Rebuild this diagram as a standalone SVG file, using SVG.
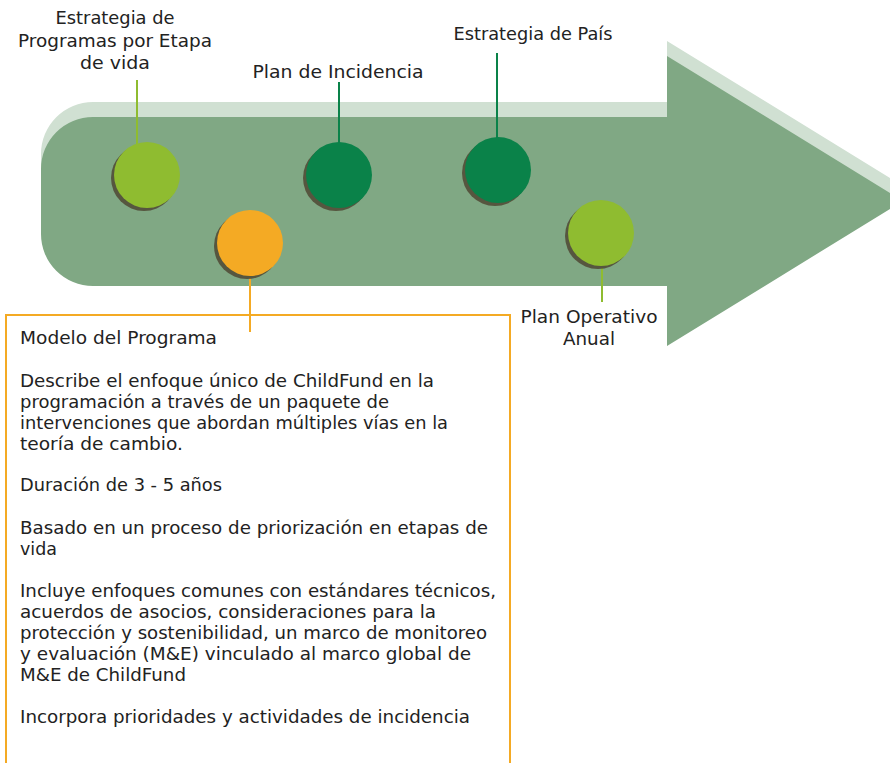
<svg xmlns="http://www.w3.org/2000/svg" width="890" height="763" viewBox="0 0 890 763">
<defs>
<style>
.t{font-family:"DejaVu Sans","Liberation Sans",sans-serif;font-size:17px;fill:#222222}
.c{text-anchor:middle}
.sh{fill:#56563f}
.lg{fill:#8fbc30}
.dg{fill:#0a8249}
.or{fill:#f4aa24}
</style>
<path id="arrowShape" d="M 93 117 H 667 V 56 L 903 201 L 667 346 V 286 H 93 A 52 52 0 0 1 41 234 V 169 A 52 52 0 0 1 93 117 Z"/>
</defs>
<rect width="890" height="763" fill="#ffffff"/>
<g id="arrow">
<use href="#arrowShape" transform="translate(0,-15)" fill="#d0e0d2"/>
<use href="#arrowShape" fill="#80a884"/>
</g>
<g id="connectors">
<line x1="137" y1="80" x2="137" y2="145" stroke="#8fbc30" stroke-width="2"/>
<line x1="339" y1="82" x2="339" y2="145" stroke="#0a8249" stroke-width="2"/>
<line x1="497" y1="53" x2="497" y2="140" stroke="#0a8249" stroke-width="2"/>
<line x1="602" y1="262" x2="602" y2="302" stroke="#8fbc30" stroke-width="2"/>
<line x1="250" y1="272" x2="250" y2="332" stroke="#f4aa24" stroke-width="2"/>
</g>
<g id="node-estrategia-programas">
<circle class="sh" cx="144" cy="178" r="33"/>
<circle class="lg" cx="147" cy="175" r="33"/>
<text class="t c" x="115" y="24" textLength="119" lengthAdjust="spacingAndGlyphs">Estrategia de</text>
<text class="t c" x="115" y="47" textLength="194" lengthAdjust="spacingAndGlyphs">Programas por Etapa</text>
<text class="t c" x="115" y="69" textLength="70" lengthAdjust="spacingAndGlyphs">de vida</text>
</g>
<g id="node-plan-incidencia">
<circle class="sh" cx="336" cy="178" r="33"/>
<circle class="dg" cx="339" cy="175" r="33"/>
<text class="t c" x="338" y="78" textLength="171" lengthAdjust="spacingAndGlyphs">Plan de Incidencia</text>
</g>
<g id="node-estrategia-pais">
<circle class="sh" cx="495" cy="173" r="33"/>
<circle class="dg" cx="498" cy="170" r="33"/>
<text class="t c" x="533" y="40" textLength="159" lengthAdjust="spacingAndGlyphs">Estrategia de País</text>
</g>
<g id="node-plan-operativo">
<circle class="sh" cx="598" cy="236" r="33"/>
<circle class="lg" cx="601" cy="233" r="33"/>
<text class="t c" x="589" y="323" textLength="137" lengthAdjust="spacingAndGlyphs">Plan Operativo</text>
<text class="t c" x="589" y="345" textLength="52" lengthAdjust="spacingAndGlyphs">Anual</text>
</g>
<g id="node-modelo-programa">
<circle class="sh" cx="247" cy="246" r="33"/>
<circle class="or" cx="250" cy="243" r="33"/>
<rect x="6" y="315" width="504" height="460" fill="none" stroke="#f4aa24" stroke-width="2"/>
<text class="t" x="20" y="344" textLength="197" lengthAdjust="spacingAndGlyphs">Modelo del Programa</text>
<text class="t" x="20" y="387" textLength="414" lengthAdjust="spacingAndGlyphs">Describe el enfoque único de ChildFund en la</text>
<text class="t" x="20" y="408" textLength="369" lengthAdjust="spacingAndGlyphs">programación a través de un paquete de</text>
<text class="t" x="20" y="429" textLength="428" lengthAdjust="spacingAndGlyphs">intervenciones que abordan múltiples vías en la</text>
<text class="t" x="20" y="450" textLength="163" lengthAdjust="spacingAndGlyphs">teoría de cambio.</text>
<text class="t" x="20" y="491" textLength="202" lengthAdjust="spacingAndGlyphs">Duración de 3 - 5 años</text>
<text class="t" x="20" y="534" textLength="468" lengthAdjust="spacingAndGlyphs">Basado en un proceso de priorización en etapas de</text>
<text class="t" x="20" y="555" textLength="37" lengthAdjust="spacingAndGlyphs">vida</text>
<text class="t" x="20" y="597" textLength="476" lengthAdjust="spacingAndGlyphs">Incluye enfoques comunes con estándares técnicos,</text>
<text class="t" x="20" y="618" textLength="416" lengthAdjust="spacingAndGlyphs">acuerdos de asocios, consideraciones para la</text>
<text class="t" x="20" y="639" textLength="467" lengthAdjust="spacingAndGlyphs">protección y sostenibilidad, un marco de monitoreo</text>
<text class="t" x="20" y="660" textLength="451" lengthAdjust="spacingAndGlyphs">y evaluación (M&amp;E) vinculado al marco global de</text>
<text class="t" x="20" y="681" textLength="166" lengthAdjust="spacingAndGlyphs">M&amp;E de ChildFund</text>
<text class="t" x="20" y="723" textLength="450" lengthAdjust="spacingAndGlyphs">Incorpora prioridades y actividades de incidencia</text>
</g>
</svg>
